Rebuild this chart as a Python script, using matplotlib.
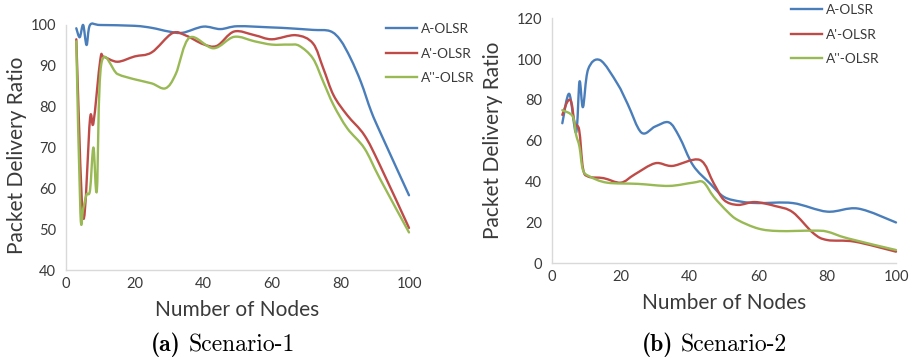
import numpy as np
import matplotlib
matplotlib.use("Agg")
import matplotlib.pyplot as plt
from matplotlib.path import Path
from matplotlib.patches import PathPatch
from matplotlib.lines import Line2D

# Scenario-1
s1_a_x = [3, 4, 5, 6, 7, 10, 20, 25, 30, 34, 40, 45, 50, 60, 65, 72, 77, 80, 83, 86, 89, 92, 100]
s1_a_y = [99.2, 97, 100, 95.1, 100, 100, 99.8, 99.3, 98.4, 98.1, 99.6, 99, 99.7, 99.4, 99.2, 98.8, 98.5, 96.3, 91.8, 86, 78.8, 73, 58.3]
s1_b_x = [3, 5, 7, 8, 10, 11, 15, 20, 25, 31, 35, 40, 44, 49, 55, 60, 67, 72, 75, 78, 82, 87, 91.5, 100]
s1_b_y = [96.5, 52.8, 77, 76, 91.5, 92.2, 91, 92.3, 93.3, 98, 97.4, 95.3, 94.9, 98.4, 97.5, 96.5, 97.5, 95.5, 89.4, 82.8, 77.9, 73, 65.7, 50.3]
s1_c_x = [3, 4.2, 5, 6, 7, 8, 9, 10.3, 15, 20, 25, 29, 32, 36, 43, 49, 55, 60, 65, 68, 72, 75, 78, 82, 87, 91.5, 100]
s1_c_y = [96, 54, 55, 58.5, 59.5, 70, 59.5, 90.5, 88, 86.7, 85.7, 84.5, 88, 96.9, 94.3, 97.1, 96, 95.2, 95.2, 94.9, 91.8, 86.1, 80.4, 74.7, 69.8, 62.4, 49.2]

# Scenario-2
s2_a_x = [3, 5, 7, 8, 9, 10.5, 14, 19, 22, 26, 30, 34, 37, 41, 46, 50, 55, 60, 70, 80, 89, 100]
s2_a_y = [68.6, 83, 64, 89, 76.5, 95, 99.5, 88, 78, 64, 67, 69, 62, 48, 39, 32.5, 30.2, 29.5, 29.5, 25.3, 26.8, 20]
s2_b_x = [3, 4.5, 5.6, 6.6, 7.9, 9, 10.5, 15, 20, 24, 30, 35, 43, 47, 50, 54, 59, 65, 70, 76, 80, 88, 100]
s2_b_y = [72.7, 79.2, 79, 68.6, 65.3, 46.6, 42.5, 41.7, 39.5, 43.5, 49, 47.7, 50.6, 39.2, 31, 28.6, 30, 28, 25, 14.7, 11.4, 10.6, 5.7]
s2_c_x = [3, 6, 7, 8, 9, 11, 16, 25, 34, 41, 44, 47, 51, 54, 60, 66, 76, 80, 86, 100]
s2_c_y = [75, 72, 63, 57, 45.7, 42.5, 39.5, 38.9, 37.9, 39.5, 39.7, 32.6, 25.3, 21.2, 17, 15.8, 16, 15.5, 12.2, 6.5]

labels = ["A-OLSR", "A'-OLSR", "A''-OLSR"]
colors = ["#4a7ebb", "#be4b48", "#98b954"]
TXT = "#3a3a3a"


def smooth_path(xs, ys):
    # Excel-like smoothed line: cubic bezier through the points
    p = np.column_stack([xs, ys]).astype(float)
    n = len(p)
    verts = [p[0]]
    codes = [Path.MOVETO]
    for i in range(n - 1):
        p0 = p[i - 1] if i > 0 else p[i]
        p3 = p[i + 2] if i + 2 < n else p[i + 1]
        c1 = p[i] + (p[i + 1] - p0) / 6
        c2 = p[i + 1] - (p3 - p[i]) / 6
        verts += [c1, c2, p[i + 1]]
        codes += [Path.CURVE4] * 3
    return Path(verts, codes)


def draw_panel(ax, series, ylim, yticks):
    for (xs, ys), c in zip(series, colors):
        ax.add_patch(PathPatch(smooth_path(xs, ys), fill=False, edgecolor=c, clip_on=False,
                               linewidth=1.7, capstyle="round", joinstyle="round"))
    ax.set_xlim(0, 100)
    ax.set_ylim(*ylim)
    ax.set_xticks(range(0, 101, 20))
    ax.set_yticks(yticks)
    for s in ["top", "right"]:
        ax.spines[s].set_visible(False)
    for s in ["left", "bottom"]:
        ax.spines[s].set_color("#d9d9d9")
        ax.spines[s].set_linewidth(1.0)
    ax.tick_params(length=0, labelsize=10.5, labelcolor=TXT)
    ax.tick_params(axis="y", pad=7)
    ax.tick_params(axis="x", pad=5)
    ax.set_xlabel("Number of Nodes", fontsize=15, color=TXT, va="center")
    ax.set_ylabel("Packet Delivery Ratio", fontsize=15, color=TXT, va="center")


plt.rcParams["font.family"] = ["Lato", "DejaVu Sans"]
fig = plt.figure(figsize=(9.17, 3.6), dpi=100)

ax1 = fig.add_axes([66 / 917, 1 - 270 / 360, 343 / 917, 245 / 360])
draw_panel(ax1, [(s1_a_x, s1_a_y), (s1_b_x, s1_b_y), (s1_c_x, s1_c_y)], (40, 100), range(40, 101, 10))
ax1.xaxis.set_label_coords(0.5, -0.163)
ax1.yaxis.set_label_coords(-0.143, 0.47)

ax2 = fig.add_axes([552 / 917, 1 - 263.3 / 360, 344 / 917, 245 / 360])
draw_panel(ax2, [(s2_a_x, s2_a_y), (s2_b_x, s2_b_y), (s2_c_x, s2_c_y)], (0, 120), range(0, 121, 20))
ax2.xaxis.set_label_coords(0.5, -0.162)
ax2.yaxis.set_label_coords(-0.172, 0.5)

handles = [Line2D([], [], color=c, linewidth=1.7) for c in colors]
for x0, y0 in [(386 / 917, 1 - 23 / 360), (791 / 917, 1 - 4 / 360)]:
    fig.legend(handles, labels, loc="upper left", bbox_to_anchor=(x0, y0), frameon=False,
               fontsize=9.8, labelcolor=TXT, handlelength=2.3, handletextpad=0.25,
               labelspacing=0.92, borderpad=0, borderaxespad=0)

# captions
for xa, xs, lab, name in [(151, 189, "(a)", "Scenario-1"), (642, 681, "(b)", "Scenario-2")]:
    fig.text(xa / 917, 1 - 345 / 360, lab, fontfamily="cmb10", fontsize=17, color="black", va="center")
    fig.text(xs / 917, 1 - 345 / 360, name, fontfamily="cmr10", fontsize=17, color="black", va="center")

fig.savefig("out.png", dpi=100)
